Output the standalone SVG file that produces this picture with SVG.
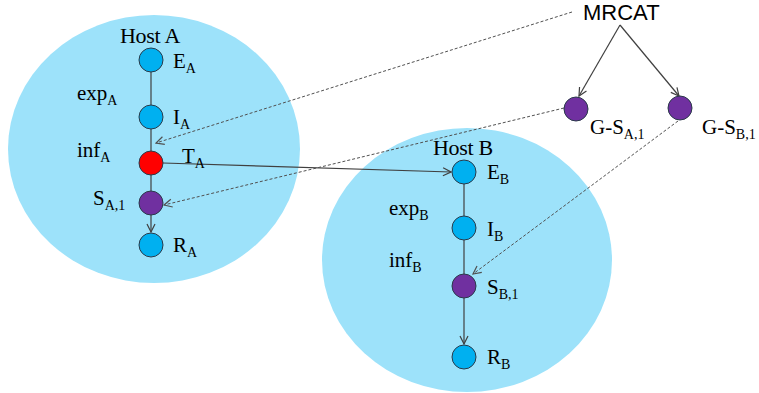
<svg xmlns="http://www.w3.org/2000/svg" width="759" height="393" viewBox="0 0 759 393">
  <defs>
    <marker id="open" viewBox="0 0 10 10" refX="9" refY="5" markerWidth="10" markerHeight="10" markerUnits="userSpaceOnUse" orient="auto">
      <path d="M1,1 L9,5 L1,9" fill="none" stroke="#404040" stroke-width="1.2"/>
    </marker>
    <marker id="openDash" viewBox="0 0 10 10" refX="9" refY="5" markerWidth="10" markerHeight="10" markerUnits="userSpaceOnUse" orient="auto">
      <path d="M1,1 L9,5 L1,9" fill="none" stroke="#505050" stroke-width="1.2"/>
    </marker>
  </defs>
  <style>
    .host { fill: #9DE2FA; }
    .node { stroke: #2a3a4a; stroke-width: 1; }
    .blue { fill: #00B0F0; }
    .purple { fill: #7030A0; }
    .red { fill: #FF0000; }
    .t { font-family: "Liberation Serif", "Times New Roman", serif; font-size: 21px; fill: #000; }
    .ht { font-family: "Liberation Serif", "Times New Roman", serif; font-size: 22px; fill: #000; letter-spacing: -0.3px; }
    .sub { font-size: 14px; }
    .sans { font-family: "Liberation Sans", Arial, sans-serif; font-size: 22px; fill: #000; }
    .solid { stroke: #404040; stroke-width: 1.2; fill: none; }
    .dash { stroke: #505050; stroke-width: 1; fill: none; stroke-dasharray: 3 2; }
  </style>

  <rect width="759" height="393" fill="#ffffff"/>

  <!-- host regions -->
  <g id="hostA-region"><ellipse class="host" cx="154" cy="149" rx="146" ry="134"/></g>
  <g id="hostB-region"><ellipse class="host" cx="467" cy="260" rx="145" ry="132"/></g>

  <!-- connectors -->
  <g id="connectors">
    <line class="solid" x1="151" y1="72" x2="151" y2="105"/>
    <line class="solid" x1="151" y1="129" x2="151" y2="151"/>
    <line class="solid" x1="151" y1="175" x2="151" y2="191"/>
    <line class="solid" x1="151" y1="215" x2="151" y2="232" marker-end="url(#open)"/>
    <line class="solid" x1="163" y1="163" x2="451" y2="172" marker-end="url(#open)"/>
    <line class="solid" x1="464" y1="184" x2="464" y2="216"/>
    <line class="solid" x1="464" y1="240" x2="464" y2="274"/>
    <line class="solid" x1="464" y1="298" x2="464" y2="344" marker-end="url(#open)"/>
    <line class="solid" x1="620" y1="25" x2="579" y2="96" marker-end="url(#open)"/>
    <line class="solid" x1="620" y1="25" x2="679" y2="96" marker-end="url(#open)"/>
    <line class="dash" x1="572" y1="12" x2="156" y2="143" marker-end="url(#openDash)"/>
    <line class="dash" x1="564" y1="108" x2="164" y2="205" marker-end="url(#openDash)"/>
    <line class="dash" x1="678" y1="121" x2="473" y2="274" marker-end="url(#openDash)"/>
  </g>

  <text class="sans" x="583" y="20">MRCAT</text>

  <!-- Host A -->
  <text class="ht" x="150" y="43" text-anchor="middle">Host A</text>
  <text class="t" x="77" y="100">exp<tspan class="sub" dy="5">A</tspan></text>
  <text class="t" x="77" y="157">inf<tspan class="sub" dy="5">A</tspan></text>
  <g id="E_A"><circle class="node blue" cx="151" cy="60" r="12"/><text class="t" x="173" y="68">E<tspan class="sub" dy="5">A</tspan></text></g>
  <g id="I_A"><circle class="node blue" cx="151" cy="117" r="12"/><text class="t" x="173" y="124">I<tspan class="sub" dy="5">A</tspan></text></g>
  <g id="T_A"><circle class="node red" cx="151" cy="163" r="12"/><text class="t" x="182" y="163">T<tspan class="sub" dy="5">A</tspan></text></g>
  <g id="S_A1"><circle class="node purple" cx="151" cy="203" r="12"/><text class="t" x="93" y="205">S<tspan class="sub" dy="5">A,1</tspan></text></g>
  <g id="R_A"><circle class="node blue" cx="151" cy="245" r="12"/><text class="t" x="173" y="252">R<tspan class="sub" dy="5">A</tspan></text></g>

  <!-- Host B -->
  <text class="ht" x="463" y="155" text-anchor="middle">Host B</text>
  <text class="t" x="389" y="215">exp<tspan class="sub" dy="5">B</tspan></text>
  <text class="t" x="389" y="267">inf<tspan class="sub" dy="5">B</tspan></text>
  <g id="E_B"><circle class="node blue" cx="464" cy="172" r="12"/><text class="t" x="487" y="179">E<tspan class="sub" dy="5">B</tspan></text></g>
  <g id="I_B"><circle class="node blue" cx="464" cy="228" r="12"/><text class="t" x="487" y="236">I<tspan class="sub" dy="5">B</tspan></text></g>
  <g id="S_B1"><circle class="node purple" cx="464" cy="286" r="12"/><text class="t" x="487" y="294">S<tspan class="sub" dy="5">B,1</tspan></text></g>
  <g id="R_B"><circle class="node blue" cx="464" cy="357" r="12"/><text class="t" x="487" y="364">R<tspan class="sub" dy="5">B</tspan></text></g>

  <!-- global strains -->
  <g id="G_SA1"><circle class="node purple" cx="576" cy="109" r="12"/><text class="t" x="590" y="134">G-S<tspan class="sub" dy="5">A,1</tspan></text></g>
  <g id="G_SB1"><circle class="node purple" cx="680" cy="108" r="12"/><text class="t" x="702" y="134">G-S<tspan class="sub" dy="5">B,1</tspan></text></g>
</svg>
